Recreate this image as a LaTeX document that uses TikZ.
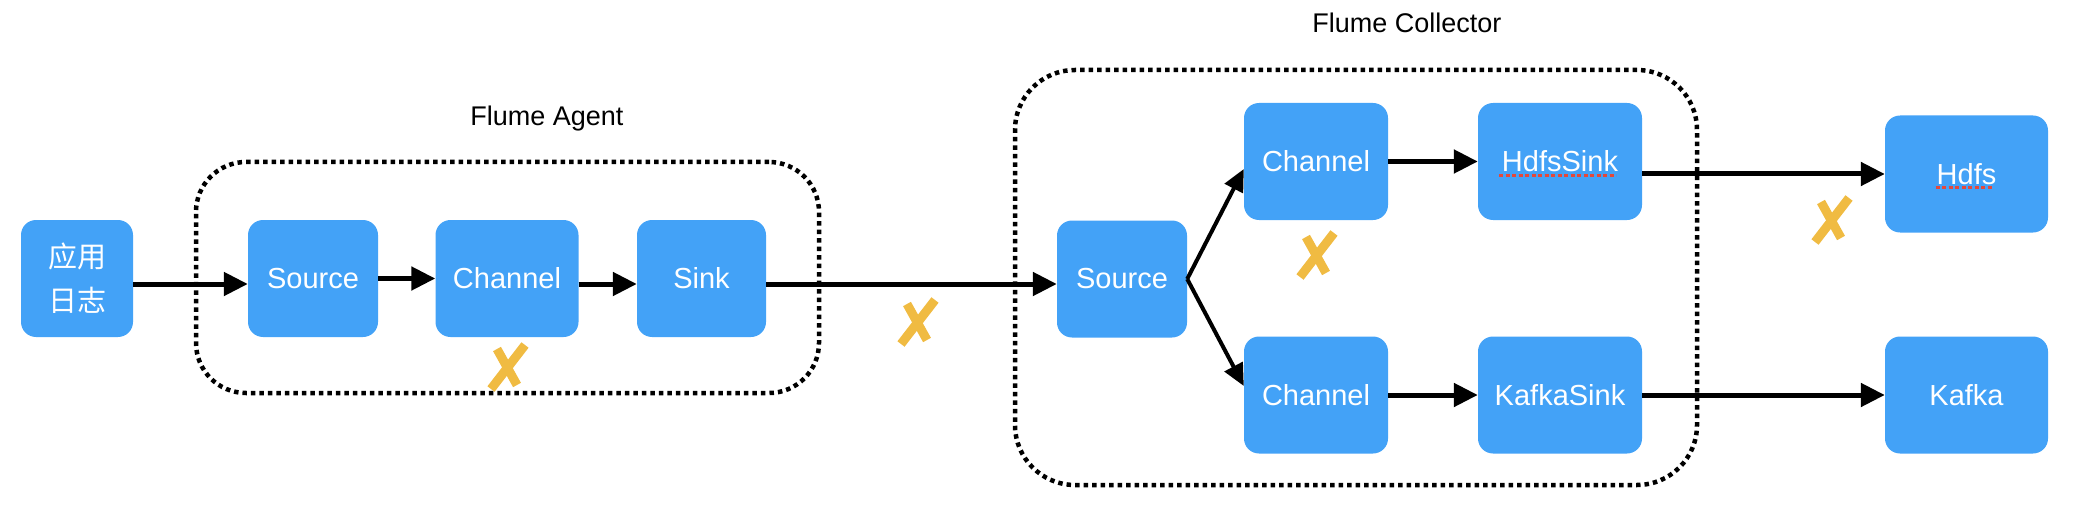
\documentclass[tikz,border=0pt]{standalone}
\usepackage{fontspec}
\setmainfont{Liberation Sans}
\newfontfamily\cjk{Noto Sans CJK SC}
\usetikzlibrary{arrows.meta,calc}
\definecolor{boxblue}{RGB}{67,162,247}
\definecolor{xyellow}{RGB}{240,187,66}
\definecolor{spellred}{RGB}{229,72,58}
\begin{document}
\begin{tikzpicture}[x=1pt,y=-1pt,
  blk/.style={fill=boxblue, rounded corners=15pt, text=white,
    font=\fontsize{29}{34}\selectfont, inner sep=0pt, minimum height=117pt},
  flow/.style={line width=5pt, -{Triangle[length=24pt,width=23pt]}},
  branch/.style={line width=4pt, -{Triangle[length=22pt,width=20pt]}},
  group/.style={draw, line width=4.5pt, dash pattern=on 4.5pt off 4pt,
    rounded corners=#1, inner sep=0pt},
  title/.style={font=\fontsize{27}{32}\selectfont, text=black},
  spell/.style={draw=spellred, line width=3pt, dash pattern=on 4pt off 2.5pt},
  xmark/.pic={
    \draw[xyellow, line width=9pt] (18,-22) -- (-16,22);
    \draw[xyellow, line width=9pt] (-10,-18) -- (10,18);
  }
]
\useasboundingbox (0,0) rectangle (2078,524);

% group frames
\node[group=50pt, minimum width=623pt, minimum height=231pt] (agent) at (507.5,277.5) {};
\node[group=60pt, minimum width=682pt, minimum height=415pt] (coll) at (1356,277.5) {};
\node[title] (agentlbl) at (547,119) {Flume Agent};
\node[title] (colllbl) at (1407,23) {Flume Collector};

% blocks
\node[blk, minimum width=112pt, align=center, font=\cjk\fontsize{29}{44}\selectfont] (log) at (77,278.5) {应用\\日志};
\node[blk, minimum width=130pt] (src1) at (313,278.5) {Source};
\node[blk, minimum width=143pt] (ch1) at (507,278.5) {Channel};
\node[blk, minimum width=129pt] (sink1) at (701.5,278.5) {Sink};

\node[blk, minimum width=130pt] (src2) at (1122,279) {Source};
\node[blk, minimum width=144pt] (ch2) at (1316,161.5) {Channel};
\node[blk, minimum width=164pt] (hsink) at (1560,161.5) {HdfsSink};
\node[blk, minimum width=144pt] (ch3) at (1316,395) {Channel};
\node[blk, minimum width=164pt] (ksink) at (1560,395) {KafkaSink};
\node[blk, minimum width=163pt] (hdfs) at (1966.5,174) {Hdfs};
\node[blk, minimum width=163pt] (kafka) at (1966.5,395) {Kafka};

% spell-check underlines
\draw[spell] ($(hsink.center)+(-61,14.5)$) -- ($(hsink.center)+(56,14.5)$);
\draw[spell] ($(hdfs.center)+(-31,13)$) -- ($(hdfs.center)+(25,13)$);

% connectors
\draw[flow] ([yshift=-5.5pt]log.east) -- ([yshift=-5.5pt]src1.west);
\draw[flow] (src1) -- (ch1);
\draw[flow] ([yshift=-5.5pt]ch1.east) -- ([yshift=-5.5pt]sink1.west);
\draw[flow] ([yshift=-5.5pt]sink1.east) -- ([yshift=-5pt]src2.west);
\draw[branch] (src2.east) -- ([yshift=-7.5pt]ch2.west);
\draw[branch] (src2.east) -- ([yshift=9pt]ch3.west);
\draw[flow] (ch2) -- (hsink);
\draw[flow] (hdfs.west -| hsink.east) -- (hdfs.west);
\draw[flow] (ch3) -- (ksink);
\draw[flow] (ksink) -- (kafka);

% failure marks
\pic at (507,367) {xmark};
\pic at (917,322) {xmark};
\pic at (1316,255) {xmark};
\pic at (1831,220) {xmark};
\end{tikzpicture}
\end{document}
